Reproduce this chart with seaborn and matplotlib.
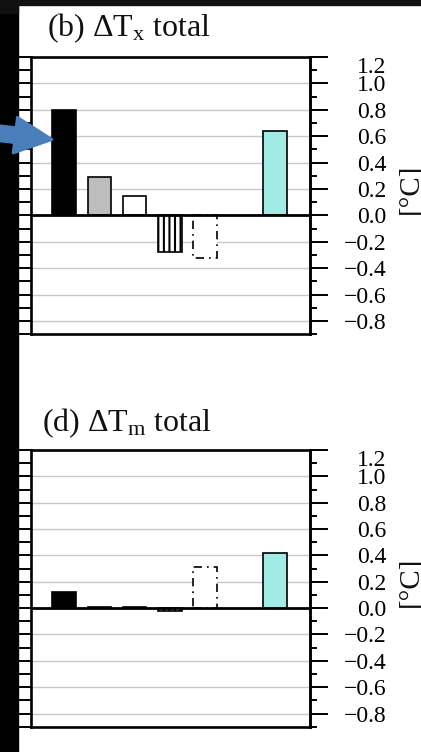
import numpy as np
import pandas as pd
import matplotlib
matplotlib.use("Agg")
import matplotlib.pyplot as plt
import matplotlib.transforms as mtransforms
from matplotlib.patches import Rectangle, FancyArrow
from matplotlib.ticker import MultipleLocator
import seaborn as sns

# ---------------- data ----------------
categories = ["c1", "c2", "c3", "c4", "c5", "c6", "c7"]
tx_total = [0.80, 0.29, 0.15, -0.28, -0.32, 0.0, 0.64]
tm_total = [0.12, 0.01, 0.01, -0.02, 0.31, 0.0, 0.42]
panel_titles = [r"(b) ΔT$_{\rm x}$ total", r"(d) ΔT$_{\rm m}$ total"]
ytick_values = [-0.8, -0.6, -0.4, -0.2, 0.0, 0.2, 0.4, 0.6, 0.8, 1.0, 1.2]
ytick_labels = ["−0.8", "−0.6", "−0.4", "−0.2", "0.0", "0.2", "0.4", "0.6", "0.8", "1.0", "1.2"]
y_unit = "[°C]"

bar_colors = ["#000000", "#bdbdbd", "#ffffff", "#ffffff", "#ffffff", "#ffffff", "#a0ece4"]
bar_hatches = [None, None, None, "|||", None, None, None]
bar_styles = ["solid", "solid", "solid", "solid", (0, (5, 3, 1, 3)), "solid", "solid"]
bar_visible = [True, True, True, True, True, False, True]

# ---------------- style ----------------
sns.set_style("ticks")
plt.rcParams["font.family"] = ["Liberation Serif", "DejaVu Serif"]
plt.rcParams["mathtext.fontset"] = "custom"
plt.rcParams["mathtext.rm"] = "Liberation Serif"
plt.rcParams["mathtext.it"] = "Liberation Serif:italic"
plt.rcParams["hatch.linewidth"] = 1.5

W, H = 421, 752
fig = plt.figure(figsize=(W / 100, H / 100), dpi=100)
fig.patch.set_facecolor("white")


def px_rect(left, top, right, bottom):
    return [left / W, 1 - bottom / H, (right - left) / W, (bottom - top) / H]


ax_b = fig.add_axes(px_rect(31, 57, 310, 334.3))
ax_d = fig.add_axes(px_rect(31, 450, 310, 726.7))

panels = [
    (ax_b, tx_total, panel_titles[0], (47 - 31) / 279, 1 + (57 - 36.5) / 277.3),
    (ax_d, tm_total, panel_titles[1], (41.7 - 31) / 279, 1 + (450 - 431.7) / 276.7),
]

for ax, vals, title, tx, ty in panels:
    df = pd.DataFrame({"category": categories, "value": vals})
    sns.barplot(
        data=df, x="category", y="value", hue="category",
        order=categories, hue_order=categories,
        palette=dict(zip(categories, bar_colors)), saturation=1,
        width=0.68, edgecolor="black", linewidth=1.2,
        legend=False, ax=ax, zorder=2,
    )
    patches = sorted(ax.patches, key=lambda p: p.get_x())
    for p, h, ls, vis in zip(patches, bar_hatches, bar_styles, bar_visible):
        if h:
            p.set_hatch(h)
        p.set_linestyle(ls)
        p.set_visible(vis)

    ax.set_xlim(-0.95, 7.0)
    ax.set_ylim(-0.9, 1.2)
    ax.set_xlabel("")
    ax.set_ylabel("")
    ax.yaxis.set_major_locator(MultipleLocator(0.2))
    ax.yaxis.set_minor_locator(MultipleLocator(0.1))
    ax.grid(axis="y", which="major", color="#c8c8c8", lw=1.0)
    ax.grid(axis="x", visible=False)
    ax.set_axisbelow(True)
    ax.tick_params(axis="y", which="both", direction="out", left=True, right=False,
                   labelleft=False, length=9, width=1.4, color="black")
    ax.tick_params(axis="x", bottom=False, labelbottom=False)
    ax.axhline(0, color="black", lw=2.0, zorder=3)
    for s in ax.spines.values():
        s.set_linewidth(1.9)
        s.set_color("black")
        s.set_visible(True)

    sec = ax.secondary_yaxis("right")
    sec.set_yticks(ytick_values, labels=ytick_labels)
    sec.yaxis.set_minor_locator(MultipleLocator(0.1))
    sec.tick_params(which="major", direction="out", length=13, width=1.4,
                    pad=42.0, labelsize=17, colors="black")
    sec.tick_params(which="minor", direction="out", length=5, width=1.4, colors="black")
    sec.spines["right"].set_linewidth(1.9)
    labs = sec.get_yticklabels()
    for t in labs:
        t.set_ha("right")
    labs[-1].set_va("top")

    ax.text(tx, ty, title, transform=ax.transAxes, fontsize=23,
            ha="left", va="baseline", color="#111111")
    ax.text((397 - 31) / 279, 0.2, y_unit,
            transform=mtransforms.blended_transform_factory(ax.transAxes, ax.transData),
            rotation=90, ha="left", va="center", fontsize=21, color="#111111",
            clip_on=False)

# ---------------- frame / annotation ----------------
fig.add_artist(Rectangle((0, 0), 18 / W, 1, transform=fig.transFigure,
                         color="black", zorder=5))
fig.add_artist(Rectangle((0, 1 - 5 / H), 1, 5 / H, transform=fig.transFigure,
                         color="#111111", zorder=5))
fig.add_artist(Rectangle((0, 1 - 13 / H), 18 / W, 13 / H, transform=fig.transFigure,
                         color="#111111", zorder=5))

tpx = mtransforms.Affine2D().scale(1 / W, -1 / H).translate(0, 1) + fig.transFigure
arrow = FancyArrow(-20, 131, 72, 8.5, width=15, head_width=36, head_length=37,
                   length_includes_head=True, facecolor="#4a7ebb", edgecolor="#4a7ebb",
                   lw=2, joinstyle="round", transform=tpx, zorder=6)
fig.add_artist(arrow)

fig.savefig("out.png", dpi=100)
